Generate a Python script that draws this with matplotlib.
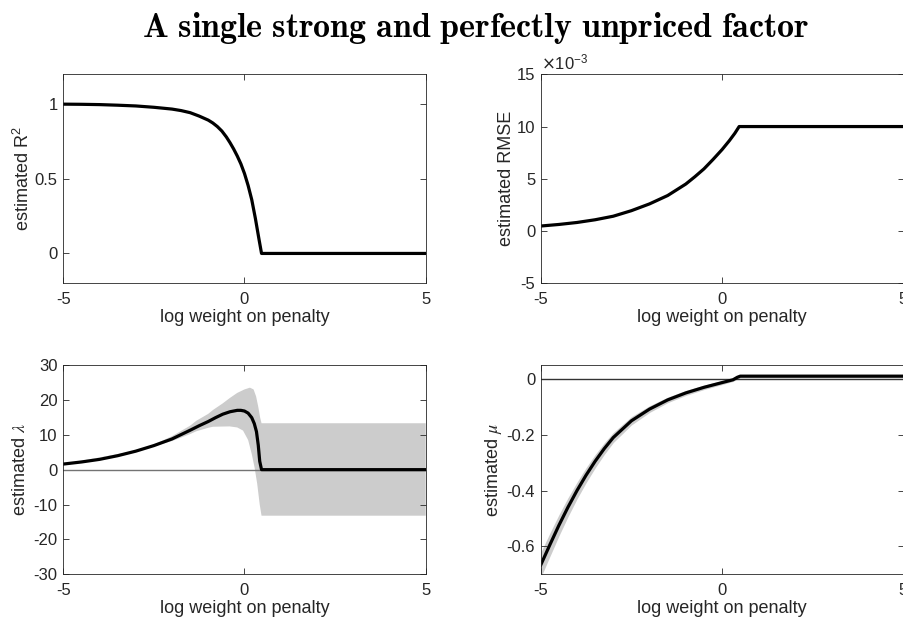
import matplotlib
matplotlib.use("Agg")
import matplotlib.pyplot as plt
from matplotlib.ticker import FuncFormatter

plt.rcParams['font.family'] = ['Liberation Sans', 'DejaVu Sans']
plt.rcParams['axes.unicode_minus'] = False

# ---- data ----
r2_x = [-5, -4.5, -4, -3.5, -3, -2.5, -2, -1.75, -1.5, -1.25, -1, -0.875, -0.75, -0.625,
        -0.5, -0.4, -0.3, -0.2, -0.1, 0, 0.1, 0.2, 0.3, 0.4, 0.47, 5]
r2_y = [1.0, 0.999, 0.997, 0.993, 0.988, 0.979, 0.967, 0.957, 0.943, 0.920, 0.893, 0.874,
        0.850, 0.820, 0.780, 0.742, 0.700, 0.653, 0.600, 0.535, 0.455, 0.360, 0.235, 0.095,
        0.0, 0.0]

rmse_x = [-5, -4.5, -4, -3.5, -3, -2.5, -2, -1.5, -1, -0.75, -0.5, -0.25, 0, 0.2, 0.35, 0.47, 5]
rmse_y = [0.48e-3, 0.63e-3, 0.82e-3, 1.08e-3, 1.42e-3, 1.95e-3, 2.6e-3, 3.4e-3, 4.5e-3,
          5.2e-3, 5.95e-3, 6.85e-3, 7.8e-3, 8.65e-3, 9.35e-3, 10.0e-3, 10.0e-3]

lam_x = [-5, -4.5, -4, -3.5, -3, -2.5, -2, -1.5, -1.25, -1, -0.8, -0.6, -0.4, -0.2, -0.1,
         0, 0.1, 0.2, 0.27, 0.33, 0.38, 0.42, 0.47, 5]
lam_y = [1.6, 2.2, 2.95, 4.0, 5.3, 6.9, 8.8, 11.3, 12.6, 13.8, 14.9, 15.9, 16.6, 17.0, 17.0,
         16.8, 16.2, 14.9, 13.2, 10.9, 7.0, 2.4, 0.0, 0.0]

lam_hi_x = [-5, -3, -2.5, -2, -1.5, -1.33, -1, -0.87, -0.6, -0.41, -0.2, 0, 0.15, 0.25, 0.32,
            0.38, 0.43, 0.47, 5]
lam_hi_y = [1.6, 5.4, 7.2, 9.6, 12.6, 14.0, 16.0, 17.1, 19.0, 20.5, 22.0, 23.0, 23.5, 23.0,
            21.0, 18.0, 15.0, 13.3, 13.3]
lam_lo_x = [-5, -3, -2.5, -2, -1.5, -1.33, -1, -0.87, -0.41, -0.2, -0.04, 0.1, 0.2, 0.28,
            0.35, 0.42, 0.47, 5]
lam_lo_y = [1.6, 5.2, 6.7, 8.2, 10.2, 11.0, 12.0, 12.3, 12.4, 12.1, 11.2, 8.5, 4.5, 0.5,
            -4.0, -10.0, -13.2, -13.2]

mu_x = [-5, -4.75, -4.5, -4.25, -4, -3.75, -3.5, -3.25, -3, -2.5, -2, -1.5, -1, -0.5, 0,
        0.3, 0.42, 0.5, 5]
mu_y = [-0.667, -0.595, -0.525, -0.46, -0.40, -0.345, -0.295, -0.25, -0.21, -0.150, -0.108,
        -0.075, -0.050, -0.030, -0.013, -0.003, 0.006, 0.01, 0.01]
mu_hw = [0.045, 0.042, 0.038, 0.034, 0.030, 0.027, 0.024, 0.021, 0.018, 0.015, 0.012, 0.010,
         0.009, 0.008, 0.007, 0.006, 0.006, 0.006, 0.006]

xticks = [-5, 0, 5]
xlabel = 'log weight on penalty'
title = 'A single strong and perfectly unpriced factor'

# ---- figure ----
W, H = 904, 626
fig = plt.figure(figsize=(W / 100, H / 100), dpi=100)

def px_axes(l, t, r, b):
    return fig.add_axes([l / W, 1 - b / H, (r - l) / W, (b - t) / H])

ax_col = '0.15'
def style(ax, ylim, yticks):
    ax.set_xlim(-5, 5)
    ax.set_ylim(*ylim)
    ax.set_xticks(xticks)
    ax.set_yticks(yticks)
    ax.tick_params(direction='in', length=4, width=0.6, top=True, right=True,
                   colors=ax_col, labelsize=12, labelcolor=ax_col, pad=4)
    ax.tick_params(axis='x', pad=6)
    for s in ax.spines.values():
        s.set_color(ax_col)
        s.set_linewidth(0.6)
    ax.set_xlabel(xlabel, fontsize=13, color=ax_col, labelpad=2)

LW = 2.3

ax1 = px_axes(63.3, 74.3, 425.7, 283.3)
ax1.plot(r2_x, r2_y, color='black', lw=LW, solid_joinstyle='round')
style(ax1, (-0.2, 1.2), [0, 0.5, 1])
ax1.yaxis.set_major_formatter(FuncFormatter(lambda v, p: f'{v:g}'))
ax1.set_ylabel(r'estimated R$\mathregular{^2}$', fontsize=13, color=ax_col, labelpad=1.5)

ax2 = px_axes(540.7, 74.3, 903.5, 283.3)
ax2.plot(rmse_x, rmse_y, color='black', lw=LW, solid_joinstyle='round')
style(ax2, (-5e-3, 15e-3), [-5e-3, 0, 5e-3, 10e-3, 15e-3])
ax2.yaxis.set_major_formatter(FuncFormatter(lambda v, p: f'{v * 1e3:.0f}'))
ax2.set_ylabel('estimated RMSE', fontsize=13, color=ax_col, labelpad=1.5)
ax2.text(0.0, 1.01, r'$\times$10$\mathregular{^{-3}}$', transform=ax2.transAxes,
         fontsize=12, color=ax_col, ha='left', va='bottom')

ax3 = px_axes(63.3, 365, 425.7, 574.3)
ax3.fill(lam_hi_x + lam_lo_x[::-1], lam_hi_y + lam_lo_y[::-1], color='0.8', lw=0)
ax3.axhline(0, color='0.45', lw=1.0)
ax3.plot(lam_x, lam_y, color='black', lw=LW, solid_joinstyle='round')
style(ax3, (-30, 30), [-30, -20, -10, 0, 10, 20, 30])
ax3.set_ylabel(r'estimated $\lambda$', fontsize=13, color=ax_col, labelpad=3)
ax3.yaxis.label.set_math_fontfamily('stix')

ax4 = px_axes(540.7, 365, 903.5, 574.3)
mu_lo = [m - h for m, h in zip(mu_y, mu_hw)]
mu_hi = [m + h for m, h in zip(mu_y, mu_hw)]
ax4.fill_between(mu_x, mu_lo, mu_hi, color='0.8', lw=0)
ax4.axhline(0, color='0.2', lw=1.0)
ax4.plot(mu_x, mu_y, color='black', lw=LW, solid_joinstyle='round')
style(ax4, (-0.7, 0.05), [-0.6, -0.4, -0.2, 0])
ax4.yaxis.set_major_formatter(FuncFormatter(lambda v, p: f'{v:g}'))
ax4.set_ylabel(r'estimated $\mu$', fontsize=13, color=ax_col, labelpad=2)
ax4.yaxis.label.set_math_fontfamily('stix')

fig.text(476 / W, 1 - 28 / H, r'$\mathbf{' + title.replace(' ', r'\ ') + '}$',
         ha='center', va='center', fontsize=24.5, math_fontfamily='cm')

fig.savefig('out.png', dpi=100)
